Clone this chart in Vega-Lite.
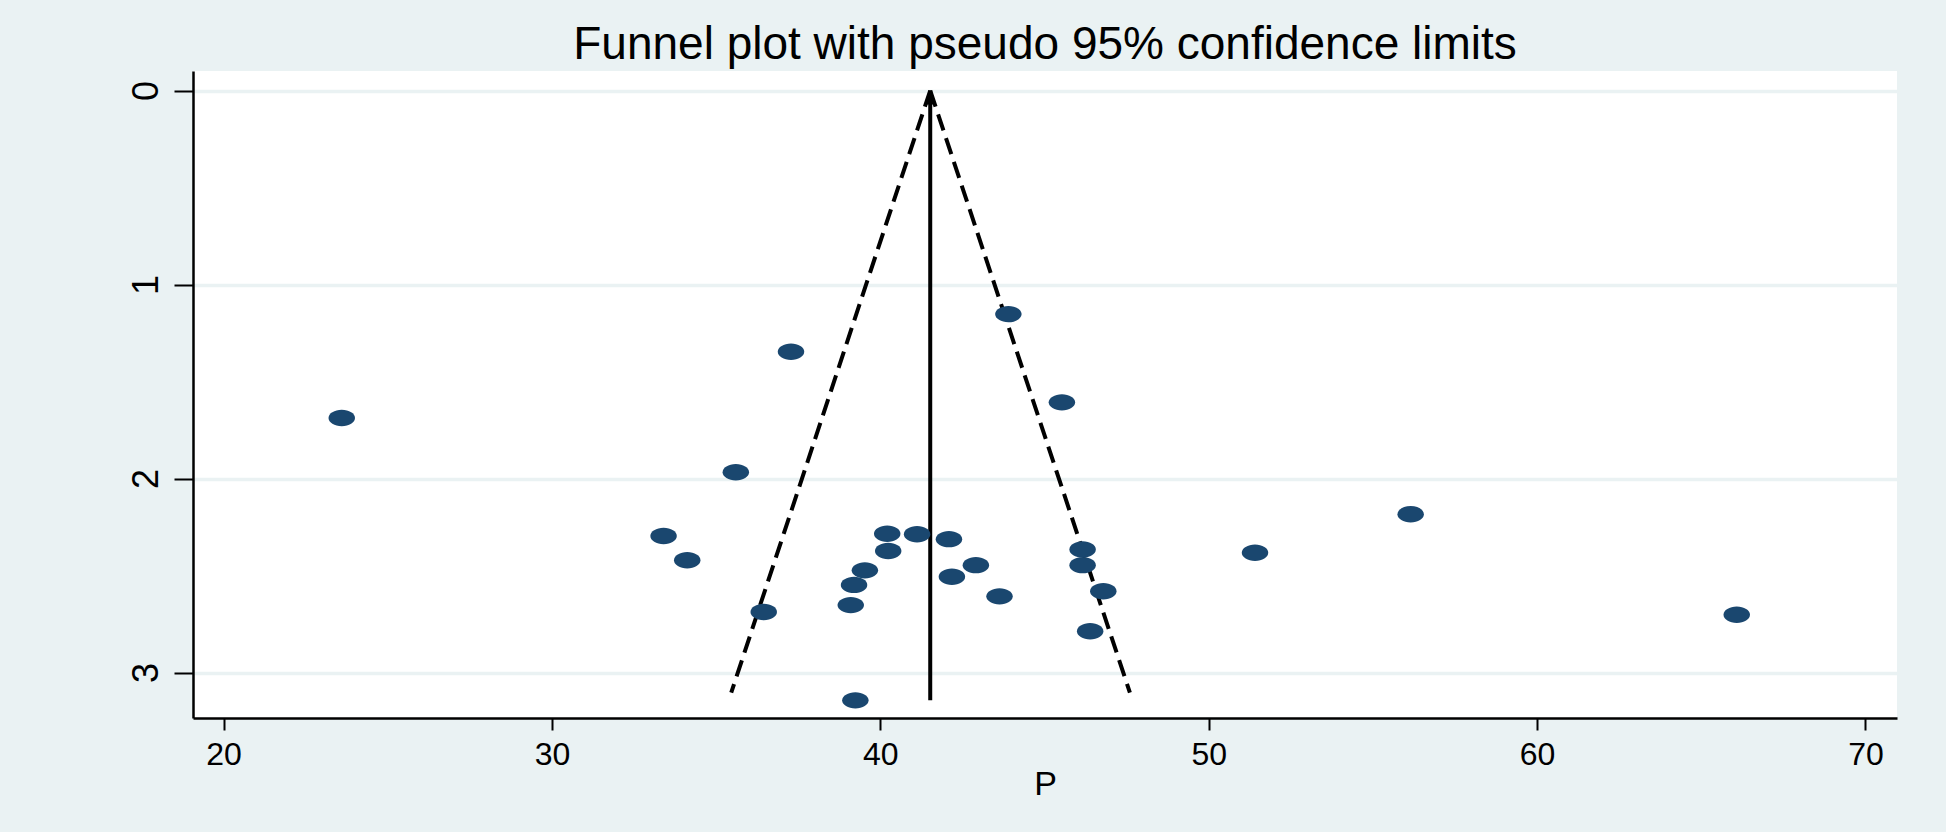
{
  "$schema": "https://vega.github.io/schema/vega-lite/v6.json",
  "autosize": {"type": "none"},
  "width": 1704,
  "height": 647,
  "padding": {"left": 193, "top": 71, "right": 49, "bottom": 114},
  "background": "#EAF2F3",
  "config": {
    "view": {"fill": "white", "stroke": null},
    "font": "Liberation Sans"
  },
  "title": {
    "text": "Funnel plot with pseudo 95% confidence limits",
    "font": "Liberation Sans",
    "fontSize": 46,
    "fontWeight": "normal",
    "color": "black",
    "anchor": "middle",
    "frame": "group",
    "baseline": "alphabetic",
    "offset": 9,
    "dy": 43
  },
  "datasets": {
    "studies": [
      {"P": 23.60, "se": 1.688},
      {"P": 37.28, "se": 1.346},
      {"P": 43.90, "se": 1.152},
      {"P": 45.53, "se": 1.607},
      {"P": 35.60, "se": 1.967},
      {"P": 33.40, "se": 2.296},
      {"P": 34.12, "se": 2.421},
      {"P": 56.15, "se": 2.184},
      {"P": 51.41, "se": 2.382},
      {"P": 66.08, "se": 2.702},
      {"P": 40.21, "se": 2.284},
      {"P": 41.12, "se": 2.287},
      {"P": 42.09, "se": 2.312},
      {"P": 40.24, "se": 2.373},
      {"P": 39.53, "se": 2.473},
      {"P": 39.20, "se": 2.548},
      {"P": 39.10, "se": 2.652},
      {"P": 36.45, "se": 2.688},
      {"P": 42.91, "se": 2.446},
      {"P": 42.18, "se": 2.506},
      {"P": 43.63, "se": 2.607},
      {"P": 46.16, "se": 2.365},
      {"P": 46.16, "se": 2.446},
      {"P": 46.79, "se": 2.581},
      {"P": 46.39, "se": 2.787},
      {"P": 39.24, "se": 3.143}
    ],
    "limits": [
      {"side": "lower", "P": 41.52, "se": 0},
      {"side": "lower", "P": 35.46, "se": 3.103},
      {"side": "upper", "P": 41.52, "se": 0},
      {"side": "upper", "P": 47.60, "se": 3.103}
    ],
    "center": [
      {"P": 41.52, "se": 0, "se2": 3.143}
    ]
  },
  "encoding": {
    "x": {
      "field": "P",
      "type": "quantitative",
      "scale": {"domain": [19.07, 70.96], "nice": false, "zero": false},
      "axis": {
        "title": "P",
        "values": [20, 30, 40, 50, 60, 70],
        "grid": false,
        "domainColor": "black",
        "domainWidth": 2.5,
        "tickColor": "black",
        "tickWidth": 2,
        "tickSize": 12,
        "labelFontSize": 32,
        "labelColor": "black",
        "labelPadding": 9,
        "labelFont": "Liberation Sans",
        "titleFont": "Liberation Sans",
        "titleFontSize": 34,
        "titleFontWeight": "normal",
        "titleColor": "black",
        "titlePadding": -3
      }
    },
    "y": {
      "field": "se",
      "type": "quantitative",
      "scale": {"domain": [-0.101, 3.234], "nice": false, "zero": false, "reverse": true},
      "axis": {
        "title": null,
        "values": [0, 1, 2, 3],
        "grid": true,
        "gridColor": "#EAF2F3",
        "gridWidth": 3.5,
        "domainColor": "black",
        "domainWidth": 2.5,
        "tickColor": "black",
        "tickWidth": 2,
        "tickSize": 19,
        "labelAngle": 270,
        "labelAlign": "center",
        "labelBaseline": "alphabetic",
        "labelFontSize": 36,
        "labelColor": "black",
        "labelPadding": 17,
        "labelFont": "Liberation Sans"
      }
    }
  },
  "layer": [
    {
      "data": {"name": "limits"},
      "mark": {"type": "line", "color": "black", "strokeWidth": 4, "strokeDash": [17, 8]},
      "encoding": {
        "detail": {"field": "side"},
        "order": {"field": "se", "type": "quantitative"}
      }
    },
    {
      "data": {"name": "center"},
      "mark": {"type": "rule", "color": "black", "strokeWidth": 4},
      "encoding": {
        "y2": {"field": "se2"}
      }
    },
    {
      "data": {"name": "center"},
      "mark": {"type": "point", "shape": "M0,0 L-0.4,1 L0.4,1 Z", "filled": true, "color": "black", "opacity": 1, "size": 784, "strokeWidth": 0}
    },
    {
      "data": {"name": "studies"},
      "mark": {"type": "point", "shape": "M-1,0 A1,0.62 0 1,0 1,0 A1,0.62 0 1,0 -1,0 Z", "filled": true, "color": "#1A476F", "opacity": 1, "size": 700, "strokeWidth": 0}
    }
  ]
}
